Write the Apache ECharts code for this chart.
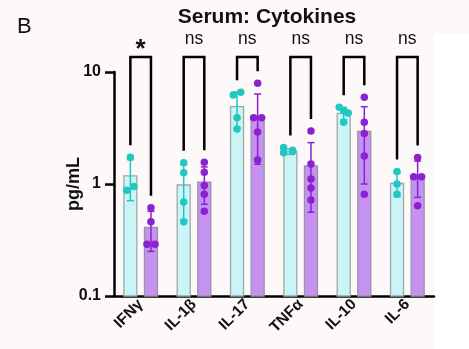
<!DOCTYPE html>
<html><head><meta charset="utf-8">
<script src="https://cdn.jsdelivr.net/npm/echarts@6/dist/echarts.min.js"></script>
<style>html,body{margin:0;padding:0;background:#fdf9f8;}#c{width:469px;height:349px;}</style>
</head><body><div id="c"></div>
<script>
const categories = ['IFNγ','IL-1β','IL-17','TNFα','IL-10','IL-6'];
const sigLabels = ['*','ns','ns','ns','ns','ns'];
const yTicks = [0.1, 1, 10];
const ctrlMean = [1.18, 0.98, 4.9, 1.94, 4.28, 1.01];
const ctrlSD   = [0.47, 0.50, 1.72, 0.10, 0.55, 0.24];
const trtMean  = [0.41, 1.04, 3.93, 1.45, 2.95, 1.18];
const trtSD    = [0.16, 0.38, 2.43, 0.89, 1.95, 0.42];
const ctrlPoints = [
  [1.73, 0.95, 0.88],
  [1.55, 1.26, 0.69, 0.46],
  [6.59, 6.23, 3.91, 3.10],
  [2.12, 2.00, 1.95, 1.90],
  [4.85, 4.50, 4.30, 3.55],
  [1.29, 1.00, 0.81]
];
const trtPoints = [
  [0.615, 0.46, 0.29, 0.29],
  [1.56, 1.27, 0.97, 0.81, 0.57],
  [7.93, 3.91, 3.91, 2.91, 1.64],
  [2.97, 1.51, 1.11, 0.92, 0.72],
  [5.94, 3.56, 2.83, 1.78, 0.81],
  [1.72, 1.16, 1.16, 0.64]
];
const bracketTop = 13.6;
const AXIS_MIN = 0.1, AXIS_MAX = 10;

const CYAN = '#22c7c1', PURPLE = '#8b22d0';
const CYAN_FILL = '#c9f5f7', PURPLE_FILL = '#c592f2';
const BAR_W = 13, GAP = 7.6, HALF = (BAR_W + GAP) / 2;
const DECADE_PX = 112;
const FONT = 'Liberation Sans, Arial, sans-serif';

function jitter(vals) {
  const idx = vals.map((v, i) => i).sort((a, b) => vals[b] - vals[a]);
  const off = new Array(vals.length).fill(0);
  let cluster = [idx[0]];
  const flush = () => {
    const n = cluster.length;
    if (n === 2) {
      const dy = Math.abs(Math.log10(vals[cluster[0]] / vals[cluster[1]])) * DECADE_PX;
      const h = Math.sqrt(Math.max(0, 64 - dy * dy)) / 2;
      off[cluster[0]] = h; off[cluster[1]] = -h;
    } else if (n > 2) {
      cluster.forEach((k, j) => { off[k] = (j - (n - 1) / 2) * 4.5 * (j % 2 ? -1 : 1); });
    }
  };
  for (let j = 1; j < idx.length; j++) {
    const prev = idx[j - 1], cur = idx[j];
    const dy = Math.abs(Math.log10(vals[prev] / vals[cur])) * DECADE_PX;
    if (dy < 7) cluster.push(cur); else { flush(); cluster = [cur]; }
  }
  flush();
  return off;
}

function scatterData(points, side) {
  const out = [];
  points.forEach((arr, i) => {
    const off = jitter(arr);
    arr.forEach((v, j) => out.push({ value: [i, v], symbolOffset: [side * HALF + off[j], 0] }));
  });
  return out;
}

function barSeries(means, side, fill, border) {
  return {
    type: 'custom', z: 2,
    data: means.map((m, i) => [i, m]),
    renderItem: function (params, api) {
      const i = api.value(0), m = api.value(1);
      const top = api.coord([i, m]);
      const base = api.coord([i, AXIS_MIN]);
      const x = top[0] + side * HALF - BAR_W / 2;
      return { type: 'rect', shape: { x: x, y: top[1], width: BAR_W, height: base[1] - top[1] },
        style: { fill: fill, stroke: border, lineWidth: 1.3 } };
    }
  };
}

function errSeries(means, sds, side, color) {
  return {
    type: 'custom', z: 4,
    data: means.map((m, i) => [i, m, sds[i]]),
    renderItem: function (params, api) {
      const i = api.value(0), m = api.value(1), s = api.value(2);
      const x = api.coord([i, m])[0] + side * HALF;
      const yt = api.coord([i, m + s])[1];
      const yb = api.coord([i, m - s])[1];
      const st = { stroke: color, lineWidth: 1.5 };
      return { type: 'group', children: [
        { type: 'line', shape: { x1: x, y1: yt, x2: x, y2: yb }, style: st },
        { type: 'line', shape: { x1: x - 3.5, y1: yt, x2: x + 3.5, y2: yt }, style: st },
        { type: 'line', shape: { x1: x - 3.5, y1: yb, x2: x + 3.5, y2: yb }, style: st }
      ]};
    }
  };
}

const chart = echarts.init(document.getElementById('c'), null, { renderer: 'canvas' });
chart.setOption({
  backgroundColor: '#fdf9f8',
  animation: false,
  textStyle: { fontFamily: FONT },
  graphic: [
    { type: 'rect', left: 434, top: 34, shape: { width: 40, height: 320 }, style: { fill: '#ffffff' }, z: -10 },
    { type: 'text', left: 17, top: 16, style: { text: 'B', fontSize: 22, fill: '#111', fontFamily: FONT } },
    { type: 'text', x: 74, y: 184, rotation: Math.PI / 2,
      style: { text: 'pg/mL', fontSize: 18, fontWeight: 'bold', fill: '#111', fontFamily: FONT,
        textAlign: 'center', textVerticalAlign: 'middle' } }
  ],
  title: {
    text: 'Serum: Cytokines', left: 262, top: 2, textAlign: 'center',
    textStyle: { fontSize: 21, fontWeight: 'bold', color: '#111', fontFamily: FONT }
  },
  grid: { left: 114, right: 35, top: 72, bottom: 53 },
  xAxis: {
    type: 'category', data: categories,
    axisLine: { lineStyle: { color: '#000', width: 2.5 } },
    axisTick: { alignWithLabel: true, length: 7, lineStyle: { width: 2.5, color: '#000' } },
    axisLabel: { rotate: 45, fontSize: 15.5, fontWeight: 'bold', color: '#111', margin: 6, interval: 0 }
  },
  yAxis: {
    type: 'log', logBase: 10, min: AXIS_MIN, max: AXIS_MAX,
    axisLine: { show: true, lineStyle: { color: '#000', width: 2.5 } },
    axisTick: { show: true, length: 9, lineStyle: { width: 2.5, color: '#000' } },
    minorTick: { show: false },
    splitLine: { show: false },
    axisLabel: {
      fontSize: 16, fontWeight: 'bold', color: '#111', margin: 13,
      formatter: v => { const t = yTicks.find(k => Math.abs(k - v) < 1e-9 * (k + 1)); return t === undefined ? '' : String(t); }
    }
  },
  series: [
    barSeries(ctrlMean, -1, CYAN_FILL, '#9ea8aa'),
    barSeries(trtMean, 1, PURPLE_FILL, '#9a94a2'),
    errSeries(ctrlMean, ctrlSD, -1, CYAN),
    errSeries(trtMean, trtSD, 1, PURPLE),
    { type: 'scatter', data: scatterData(ctrlPoints, -1), symbolSize: 7.5, z: 5, itemStyle: { color: CYAN, opacity: 1 } },
    { type: 'scatter', data: scatterData(trtPoints, 1), symbolSize: 7.5, z: 5, itemStyle: { color: PURPLE, opacity: 1 } },
    {
      type: 'custom', z: 6, clip: false,
      data: categories.map((c, i) => [i, bracketTop]),
      renderItem: function (params, api) {
        const i = api.value(0);
        const cx = api.coord([i, 1])[0];
        const yTop = api.coord([i, api.value(1)])[1];
        const yl = api.coord([i, Math.max.apply(null, ctrlPoints[i])])[1] - 12;
        const yr = api.coord([i, Math.max.apply(null, trtPoints[i])])[1] - 12;
        const xl = cx - HALF, xr = cx + HALF;
        const star = sigLabels[i] === '*';
        return { type: 'group', children: [
          { type: 'polyline', shape: { points: [[xl, yl], [xl, yTop], [xr, yTop], [xr, yr]] },
            style: { stroke: '#000', lineWidth: 2.5, fill: null } },
          { type: 'text', x: cx, y: star ? yTop - 7 : yTop - 9,
            style: { text: sigLabels[i], textAlign: 'center', textVerticalAlign: star ? 'middle' : 'bottom',
              fontSize: star ? 26 : 17.5, fontWeight: star ? 'bold' : 'normal', fill: '#111',
              fontFamily: FONT } }
        ]};
      }
    }
  ]
});
</script></body></html>
